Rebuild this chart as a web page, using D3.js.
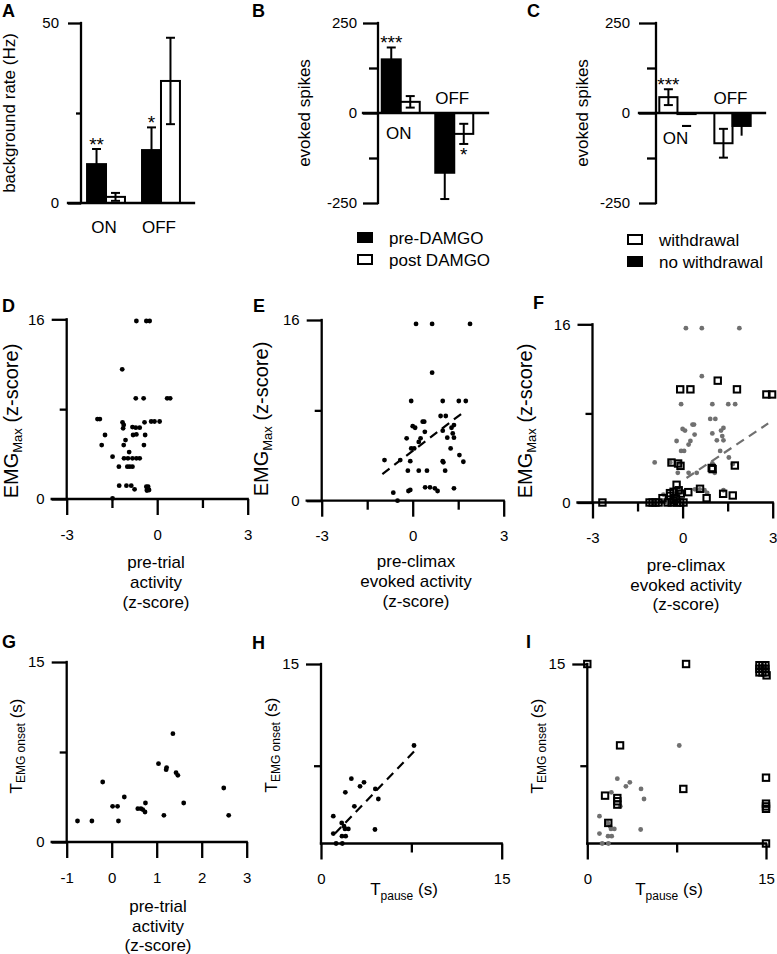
<!DOCTYPE html>
<html>
<head>
<meta charset="utf-8">
<script src="https://cdn.jsdelivr.net/npm/d3@7"></script>
<style>
  body { margin: 0; background: #fff; }
  svg { display: block; font-family: "Liberation Sans", Arial, sans-serif; }
  text, tspan { fill: #000; }
</style>
</head>
<body>
<svg id="fig" width="777" height="954"></svg>
<script>
// ---- data ----
const groups = ["ON", "OFF"];

// A: background rate (Hz), pre / post DAMGO
const ratePre = [10.8, 14.7], ratePreErr = [4.2, 6.3];
const ratePost = [1.7, 33.9], ratePostErr = [1.1, 12.0];
const rateStars = [["**", ""], ["*", ""]];

// B: evoked spikes, pre / post DAMGO
const evokedPre = [149, -166], evokedPreErr = [33, 73];
const evokedPost = [31, -58], evokedPostErr = [16, 28];
const evokedStars = [["***", ""], ["", "*"]];

// C: evoked spikes, withdrawal / no withdrawal
const wdrYes = [44, -84], wdrYesErr = [22, 40];
const wdrNo = [-3, -36], wdrNoErr = [0, 27];
const wdrStars = [["***", ""], ["", ""]];

const legendB = ["pre-DAMGO", "post DAMGO"];
const legendC = ["withdrawal", "no withdrawal"];

// D: pre-trial activity vs EMG max
const dPoints = [[-0.69,15.85],[-0.36,15.85],[-0.25,15.85],[-1.16,11.55],[-0.71,8.96],[-0.45,8.96],[0.33,8.96],[0.43,8.96],
  [-1.98,7.12],[-1.90,7.12],[-1.15,6.83],[-0.42,6.83],[-0.20,6.9],[-0.09,6.9],[0.08,6.9],[-1.11,6.59],[-1.13,6.29],
  [-0.82,6.4],[-0.71,6.35],[-0.58,6.35],[-0.80,5.7],[-0.69,5.75],[-0.40,5.7],[-1.73,5.7],[-1.05,5.25],[-1.84,4.8],
  [-1.11,4.8],[-0.44,4.8],[-0.93,4.18],[-1.48,3.77],[-1.10,3.62],[-0.97,3.62],[-0.82,3.62],[-0.69,3.62],[-0.58,3.62],
  [-1.27,2.88],[-0.99,2.88],[-0.91,2.88],[-0.82,2.88],[-1.26,1.19],[-1.02,1.19],[-0.86,1.19],[-0.75,0.86],[-0.36,1.1],
  [-0.30,1.1],[-0.33,0.86],[-0.27,0.8],[-0.34,0.75],[-1.48,0.06]];

// E: pre-climax evoked activity vs EMG max
const ePoints = [[0.11,15.65],[0.64,15.65],[1.89,15.65],[0.64,11.34],[-0.05,8.83],[0.99,8.83],[1.52,8.83],[1.75,8.83],
  [0.92,7.5],[1.09,7.5],[0.33,7.0],[0.38,7.0],[0.0,6.6],[0.08,6.46],[1.36,6.7],[1.28,6.46],[0.99,6.2],[0.4,6.1],
  [1.32,5.96],[1.36,5.58],[1.14,5.58],[-0.2,5.52],[0.26,5.52],[0.2,5.2],[-0.05,4.63],[0.05,4.63],[1.25,4.63],
  [1.54,4.04],[-0.93,3.6],[-0.41,3.6],[-0.08,3.5],[0.99,3.5],[1.01,3.4],[1.67,3.45],[-0.16,2.66],[0.2,2.66],
  [0.47,2.66],[1.07,2.66],[-0.64,0.71],[-0.14,0.86],[-0.08,0.95],[0.41,1.18],[0.57,1.18],[0.73,1.1],[0.82,0.86],
  [1.36,1.1],[-0.5,0]];
const eFit = [[-1.0, 2.36], [1.69, 7.87]];

// F: withdrawal trials (squares) over E data
const fSquares = [[-2.67,0],[-1.1,0],[-1.0,0],[-0.9,0],[-0.8,0],[-0.5,0],[-0.36,0],[-0.19,0],[-0.08,0],[0.03,0],
  [-0.67,0.39],[-0.42,0.84],[-0.41,0.6],[-0.3,0.96],[-0.2,1.59],[-0.13,1.1],[-0.06,0.8],[-0.22,0.36],[-0.3,0.2],
  [0.19,0.93],[0.58,1.23],[0.8,0.39],[1.35,0.78],[1.67,0.63],[-0.37,3.59],[-0.15,3.5],[-0.07,3.29],[0.97,3.1],
  [1.0,3.0],[1.74,3.32],[-0.08,10.16],[0.26,10.16],[1.17,10.94],[1.81,10.16],[2.79,9.7],[2.98,9.7]];
const fFit = [[0.13, 2.2], [2.85, 7.1]];

// G: pre-trial activity vs EMG onset
const gPoints = [[-0.76,1.75],[-0.44,1.75],[-0.2,5.0],[0.02,2.97],[0.13,2.97],[0.15,1.75],[0.28,3.75],[0.58,2.78],
  [0.65,2.78],[0.69,2.7],[0.74,2.5],[0.75,3.25],[1.04,6.53],[1.16,2.22],[1.21,6.03],[1.22,6.2],[1.36,9.03],
  [1.43,5.78],[1.47,5.56],[1.6,3.25],[2.49,4.5],[2.6,2.22]];

// H: pause duration vs EMG onset
const hPoints = [[7.72,8.19],[2.52,5.42],[3.24,4.78],[3.57,5.11],[2.02,4.28],[4.51,4.56],[4.76,3.72],[2.77,3.11],
  [1.02,2.28],[1.72,1.72],[1.91,1.44],[2.27,1.22],[1.99,1.22],[1.02,0.83],[1.74,0.61],[2.05,0.61],[4.48,1.17],
  [1.25,0],[1.77,0]];
const hFit = [[1.16, 0.83], [7.72, 7.69]];

// I: withdrawal trials (squares) over H data
const iSquares = [[0,15],[8.29,15],[14.45,14.9],[14.7,14.9],[14.95,14.9],[14.45,14.6],[14.7,14.6],[14.95,14.6],
  [14.45,14.3],[14.7,14.3],[14.95,14.3],[15.05,14.05],[2.75,8.2],[15,5.5],[8.06,4.56],[1.49,4.0],[2.52,3.8],
  [2.52,3.53],[2.52,3.25],[15,3.33],[15,3.1],[15,2.9],[1.76,1.72],[15,0]];

// ---- drawing ----
const svg = d3.select("#fig");
const grey = "#707070";
const lw = 2.3;

function styleAxis(g) {
  g.select(".domain").remove();
  g.attr("font-family", null).attr("font-size", null);
  g.selectAll(".tick line").attr("stroke", "#000").attr("stroke-width", lw);
  g.selectAll(".tick text").attr("fill", "#000").style("font-size", "15px");
}

function hline(g, x1, x2, y) {
  g.append("line").attr("x1", x1).attr("x2", x2).attr("y1", y).attr("y2", y)
    .attr("stroke", "#000").attr("stroke-width", lw).attr("stroke-linecap", "square");
}
function vline(g, x, y1, y2) {
  g.append("line").attr("x1", x).attr("x2", x).attr("y1", y1).attr("y2", y2)
    .attr("stroke", "#000").attr("stroke-width", lw).attr("stroke-linecap", "square");
}

function letter(t, x, y) {
  svg.append("text").attr("x", x).attr("y", y).style("font-size", "18px")
    .style("font-weight", "bold").text(t);
}

// rotated y title built from [text, size, dy] parts
function yTitle(parts, bx, cy) {
  const t = svg.append("text").attr("text-anchor", "middle").attr("opacity", 0.999)
    .attr("transform", `translate(${bx},${cy}) rotate(-90)`);
  parts.forEach(([s, size, dy]) => {
    t.append("tspan").style("font-size", size + "px").attr("dy", dy).text(s);
  });
}

function xTitleLines(lines, xc, baselines) {
  lines.forEach((s, i) => {
    svg.append("text").attr("x", xc).attr("y", baselines[i]).attr("text-anchor", "middle")
      .style("font-size", "17px").text(s);
  });
}

function xTitleSub(main, sub, rest, xc, y) {
  const t = svg.append("text").attr("x", xc).attr("y", y).attr("text-anchor", "middle");
  t.append("tspan").style("font-size", "17px").text(main);
  t.append("tspan").style("font-size", "12px").attr("dy", 5).text(sub);
  t.append("tspan").style("font-size", "17px").attr("dy", -5).text(rest);
}

function barPanel(p) {
  const g = svg.append("g");
  const y = d3.scaleLinear().domain(p.yDomain).range([203, 23]);
  const x0 = d3.scaleBand().domain(groups).range(p.xRange)
    .paddingInner(p.padIn).paddingOuter(p.padOut);
  const x1 = d3.scaleBand().domain(d3.range(p.series.length)).range([0, x0.bandwidth()]);
  const ax = p.axisX;

  g.append("g").attr("transform", `translate(${ax},0)`)
    .call(d3.axisLeft(y).tickValues(p.major).tickSize(p.majorLen).tickPadding(p.labelPad)
      .tickFormat(d => String(d)))
    .call(styleAxis);
  g.append("g").attr("transform", `translate(${ax},0)`)
    .call(d3.axisLeft(y).tickValues(p.minor).tickSize(p.minorLen).tickFormat(""))
    .call(styleAxis);

  p.series.forEach((s, si) => {
    const cx = i => x0(groups[i]) + x1(si) + x1.bandwidth() / 2;
    g.append("g").selectAll("rect").data(s.vals).join("rect")
      .attr("x", (d, i) => x0(groups[i]) + x1(si))
      .attr("width", x1.bandwidth())
      .attr("y", d => y(Math.max(0, d)))
      .attr("height", d => Math.abs(y(d) - y(0)))
      .attr("fill", s.fill).attr("stroke", "#000").attr("stroke-width", 2);
    const eb = g.append("g").selectAll("g").data(s.vals).join("g")
      .attr("stroke", "#000").attr("stroke-width", 2);
    eb.append("line")
      .attr("x1", (d, i) => cx(i)).attr("x2", (d, i) => cx(i))
      .attr("y1", (d, i) => y(d - s.errs[i])).attr("y2", (d, i) => y(d + s.errs[i]));
    [1, -1].forEach(sign => {
      eb.filter((d, i) => s.errs[i] > 0).append("line")
        .attr("x1", (d, i) => cx(i) - 4.5).attr("x2", (d, i) => cx(i) + 4.5)
        .attr("y1", (d, i) => y(d + sign * s.errs[i])).attr("y2", (d, i) => y(d + sign * s.errs[i]));
    });
    g.append("g").selectAll("text").data(s.vals).join("text")
      .attr("x", (d, i) => cx(i))
      .attr("y", (d, i) => d >= 0 ? y(d + s.errs[i]) + 2 : y(d - s.errs[i]) + 17)
      .attr("text-anchor", "middle").style("font-size", "19px")
      .text((d, i) => p.stars[i][si]);
  });

  vline(g, ax, y.range()[1], y.range()[0]);
  hline(g, ax - p.majorLen, p.zeroEnd, y(0));

  groups.forEach((grp, i) => {
    g.append("text").attr("x", x0(grp) + x0.bandwidth() / 2 - 2).attr("y", p.groupLabelY[i])
      .attr("text-anchor", "middle").style("font-size", "17px").text(grp);
  });
  return g;
}

function legend(labels, fills, x, y0, step) {
  labels.forEach((s, i) => {
    svg.append("rect").attr("x", x).attr("y", y0 + i * step - 5).attr("width", 14).attr("height", 9)
      .attr("fill", fills[i]).attr("stroke", "#000").attr("stroke-width", 2);
    svg.append("text").attr("x", x + 31).attr("y", y0 + i * step + 6)
      .style("font-size", "17px").text(s);
  });
}

function scatterPanel(p) {
  const g = svg.append("g");
  const x = d3.scaleLinear().domain(p.xDomain).range(p.xRange);
  const y = d3.scaleLinear().domain(p.yDomain).range(p.yRange);
  const x0 = p.xRange[0], y0 = y(0);

  g.append("g").attr("transform", `translate(0,${y0})`)
    .call(d3.axisBottom(x).tickValues(p.xMajor).tickSize(16).tickPadding(14).tickFormat(d => String(d)))
    .call(styleAxis);
  g.append("g").attr("transform", `translate(0,${y0})`)
    .call(d3.axisBottom(x).tickValues(p.xMinor).tickSize(9).tickFormat(""))
    .call(styleAxis);
  g.append("g").attr("transform", `translate(${x0},0)`)
    .call(d3.axisLeft(y).tickValues(p.yMajor).tickSize(15).tickPadding(7).tickFormat(d => String(d)))
    .call(styleAxis);
  g.append("g").attr("transform", `translate(${x0},0)`)
    .call(d3.axisLeft(y).tickValues(p.yMinor).tickSize(7).tickFormat(""))
    .call(styleAxis);

  vline(g, x0, y(p.yDomain[1]), y0);
  hline(g, p.overhang ? x0 - 15 : x0, p.xRange[1], y0);

  if (p.dots) {
    g.append("g").selectAll("circle").data(p.dots).join("circle")
      .attr("cx", d => x(d[0])).attr("cy", d => y(d[1])).attr("r", 2.4)
      .attr("fill", p.dotColor);
  }
  if (p.fit) {
    g.append("path").datum(p.fit)
      .attr("d", d3.line().x(d => x(d[0])).y(d => y(d[1])))
      .attr("fill", "none").attr("stroke", p.dotColor).attr("stroke-width", 2.2)
      .attr("stroke-dasharray", "9,6");
  }
  if (p.squares) {
    g.append("g").selectAll("rect").data(p.squares).join("rect")
      .attr("x", d => x(d[0]) - 3.2).attr("y", d => y(d[1]) - 3.2)
      .attr("width", 6.4).attr("height", 6.4)
      .attr("fill", "none").attr("stroke", "#000").attr("stroke-width", 2);
  }
  return g;
}

// ---- row 1: bar panels ----
barPanel({
  yDomain: [0, 50], axisX: 81, xRange: [81, 186], padIn: 0.31, padOut: 0.11,
  major: [0, 50], minor: [25], majorLen: 13, minorLen: 5, labelPad: 9, zeroEnd: 194,
  groupLabelY: [233, 233], stars: rateStars,
  series: [{ vals: ratePre, errs: ratePreErr, fill: "#000" },
           { vals: ratePost, errs: ratePostErr, fill: "#fff" }]
});
barPanel({
  yDomain: [-250, 250], axisX: 378, xRange: [378, 477], padIn: 0.29, padOut: 0.07,
  major: [-250, 0, 250], minor: [-125, 125], majorLen: 15, minorLen: 9, labelPad: 6, zeroEnd: 488,
  groupLabelY: [139, 104], stars: evokedStars,
  series: [{ vals: evokedPre, errs: evokedPreErr, fill: "#000" },
           { vals: evokedPost, errs: evokedPostErr, fill: "#fff" }]
});
barPanel({
  yDomain: [-250, 250], axisX: 656, xRange: [656, 754], padIn: 0.34, padOut: 0.06,
  major: [-250, 0, 250], minor: [-125, 125], majorLen: 17, minorLen: 9, labelPad: 9, zeroEnd: 765,
  groupLabelY: [144, 104], stars: wdrStars,
  series: [{ vals: wdrYes, errs: wdrYesErr, fill: "#fff" },
           { vals: wdrNo, errs: wdrNoErr, fill: "#000" }]
});
legend(legendB, ["#000", "#fff"], 358, 238, 22);
legend(legendC, ["#fff", "#000"], 628, 240, 22);

yTitle([["background rate (Hz)", 17, 0]], 15, 113);
yTitle([["evoked spikes", 17, 0]], 310, 113);
yTitle([["evoked spikes", 17, 0]], 588, 113);

// ---- row 2: EMG max scatter ----
const zAxis = { xDomain: [-3, 3], yDomain: [0, 16], xMajor: [-3, 0, 3], xMinor: [-1.5, 1.5],
  yMajor: [0, 16], yMinor: [8], overhang: true };
scatterPanel({ ...zAxis, xRange: [66.7, 247.7], yRange: [499, 319.3], dots: dPoints, dotColor: "#000" });
scatterPanel({ ...zAxis, xRange: [321.7, 503.7], yRange: [500.7, 320], dots: ePoints, dotColor: "#000", fit: eFit });
scatterPanel({ ...zAxis, xRange: [592.5, 772.7], yRange: [502.5, 324.3], dots: ePoints, dotColor: grey,
  fit: fFit, squares: fSquares });

const emgMax = [["EMG", 20, 0], ["Max", 13, 4], [" (z-score)", 20, -4]];
yTitle(emgMax, 18, 421);
yTitle(emgMax, 268, 419);
yTitle(emgMax, 532, 421);

xTitleLines(["pre-trial", "activity", "(z-score)"], 156, [568, 588, 608]);
xTitleLines(["pre-climax", "evoked activity", "(z-score)"], 416, [567, 587, 607]);
xTitleLines(["pre-climax", "evoked activity", "(z-score)"], 686, [571, 591, 610]);

// ---- row 3: EMG onset scatter ----
scatterPanel({ xDomain: [-1, 3], yDomain: [0, 15], xRange: [66.7, 246.7], yRange: [842, 662],
  xMajor: [-1, 0, 1, 2, 3], xMinor: [], yMajor: [0, 15], yMinor: [7.5], overhang: true,
  dots: gPoints, dotColor: "#000" });
const pauseAxis = { xDomain: [0, 15], yDomain: [0, 15], xMajor: [0, 15], xMinor: [7.5],
  yMajor: [15], yMinor: [6.5], overhang: false };
scatterPanel({ ...pauseAxis, xRange: [321, 501.7], yRange: [843.5, 664], dots: hPoints, dotColor: "#000", fit: hFit });
scatterPanel({ ...pauseAxis, xRange: [587.3, 766], yRange: [843.5, 664], dots: hPoints, dotColor: grey,
  squares: iSquares });

const emgOnset = [["T", 17, 0], ["EMG onset", 12, 3], [" (s)", 17, -3]];
yTitle(emgOnset, 22, 746);
yTitle(emgOnset, 277, 745);
yTitle(emgOnset, 543, 746);

xTitleLines(["pre-trial", "activity", "(z-score)"], 158, [912, 932, 951]);
xTitleSub("T", "pause", " (s)", 404, 895);
xTitleSub("T", "pause", " (s)", 669, 895);

// ---- panel letters ----
letter("A", 2, 17); letter("B", 252, 17); letter("C", 527, 17);
letter("D", 2, 312); letter("E", 253, 312); letter("F", 533, 309);
letter("G", 2, 648); letter("H", 252, 649); letter("I", 526, 648);
</script>
</body>
</html>
